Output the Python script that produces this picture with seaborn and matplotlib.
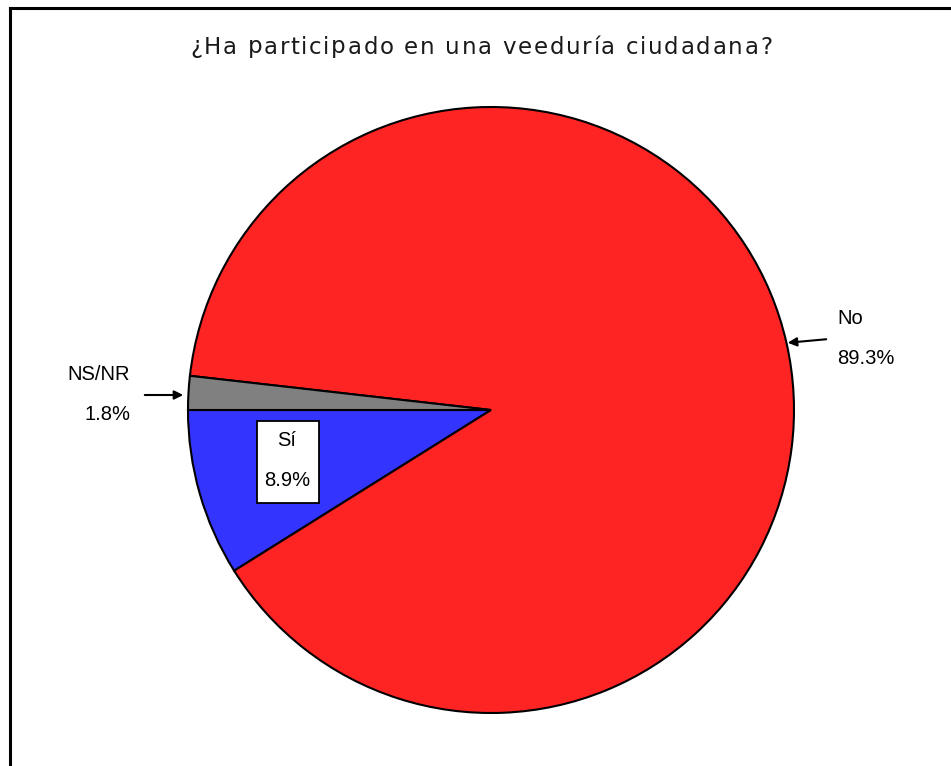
import matplotlib
matplotlib.use("Agg")
import matplotlib.pyplot as plt
import seaborn as sns

# survey answers
categories = ["Sí", "No", "NS/NR"]
shares = [8.9, 89.3, 1.8]
slice_colors = ["#3434FF", "#FF2424", "#808080"]
title = "¿Ha participado en una veeduría ciudadana?"

sns.set_theme(style="white")
plt.rcParams['font.family'] = ['Liberation Sans', 'DejaVu Sans']

W, H = 951, 766
fig = plt.figure(figsize=(W / 100, H / 100), dpi=100)
fig.patch.set_facecolor("white")

# pie axes placed in pixel terms: centre ~(491, 410), radius ~303
cx, cy, r = 491, 410, 303
ax = fig.add_axes([(cx - r) / W, (H - cy - r) / H, 2 * r / W, 2 * r / H])
wedges, _ = ax.pie(shares, colors=slice_colors, startangle=180, counterclock=True,
                   wedgeprops=dict(edgecolor="black", linewidth=1.5))
ax.set_xlim(-1, 1)
ax.set_ylim(-1, 1)
ax.set_aspect("equal")
ax.axis("off")

# overlay axes in pixel coordinates for labels and frame
ov = fig.add_axes([0, 0, 1, 1], facecolor="none")
ov.set_xlim(0, W)
ov.set_ylim(H, 0)
ov.axis("off")

ov.plot([10, 10], [H + 5, 8], color="black", lw=2.2, solid_capstyle="projecting")
ov.plot([10, W + 5], [8, 8], color="black", lw=2.2, solid_capstyle="projecting")

# title is letter-spaced in the original, so lay it out char by char
tkw = dict(family="DejaVu Sans", fontsize=16.5, color="#1a1a1a", va="center", ha="left")
renderer = fig.canvas.get_renderer()


def text_width(s):
    t = ov.text(0, 0, s + "H", **tkw)
    w = t.get_window_extent(renderer).width
    t.remove()
    return w


h_w = text_width("")
offsets = [text_width(title[:i]) - h_w for i in range(len(title) + 1)]
target_left, target_right = 190, 772
gap = (target_right - target_left - offsets[-1]) / (len(title) - 1)
for i, ch in enumerate(title):
    if ch != " ":
        ov.text(target_left + offsets[i] + i * gap, 47, ch, **tkw)

lbl = dict(fontsize=14.5, color="black")
# No
ov.text(837, 318, categories[1], ha="left", va="center", **lbl)
ov.text(837, 358, f"{shares[1]:.1f}%", ha="left", va="center", **lbl)
ov.annotate("", xy=(785, 343), xytext=(829, 339),
            arrowprops=dict(arrowstyle="-|>", color="black", lw=1.5, mutation_scale=13))
# NS/NR
ov.text(130, 375, categories[2], ha="right", va="center", **lbl)
ov.text(130, 414, f"{shares[2]:.1f}%", ha="right", va="center", **lbl)
ov.annotate("", xy=(186, 395), xytext=(142, 395),
            arrowprops=dict(arrowstyle="-|>", color="black", lw=1.5, mutation_scale=13))
# Sí boxed label
ov.add_patch(plt.Rectangle((257, 421), 62, 82, facecolor="white", edgecolor="black", lw=1.3))
ov.text(287, 440, categories[0], ha="center", va="center", **lbl)
ov.text(287, 480, f"{shares[0]:.1f}%", ha="center", va="center", **lbl)

fig.savefig("out.png", dpi=100, facecolor="white")
